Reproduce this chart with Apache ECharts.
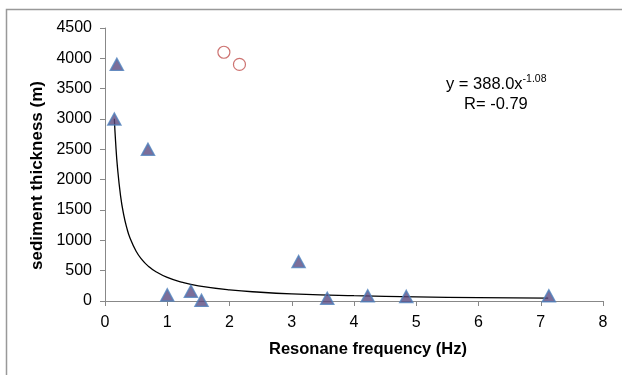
<!DOCTYPE html>
<html>
<head>
<meta charset="utf-8">
<script src="https://cdn.jsdelivr.net/npm/echarts@6/dist/echarts.min.js"></script>
<style>html,body{margin:0;padding:0;background:#fff}#c{width:622px;height:375px}</style>
</head>
<body>
<div id="c"></div>
<script>
var triFreq = [0.19, 0.15, 0.69, 1.0, 1.38, 1.55, 3.11, 3.57, 4.22, 4.84, 7.13];
var triThick = [3900, 3000, 2500, 100, 160, 10, 650, 45, 85, 75, 85];
var circFreq = [1.91, 2.16];
var circThick = [4100, 3900];
var fitFreq = [0.15, 0.17, 0.2, 0.25, 0.3, 0.35, 0.4, 0.5, 0.6, 0.7, 0.8, 1.0, 1.25, 1.5, 2, 2.5, 3, 4, 5, 6, 7.12];
var fitThick = [3003, 2630, 2207, 1734, 1424, 1206, 1044, 820, 674, 570, 494, 388, 305, 250, 184, 144, 118, 87, 68, 56, 47];
var xTicks = [0, 1, 2, 3, 4, 5, 6, 7, 8];
var yTicks = [0, 500, 1000, 1500, 2000, 2500, 3000, 3500, 4000, 4500];
var equation = ['y = 388.0x', '-1.08', 'R= -0.79'];
var xTitle = 'Resonane frequency (Hz)';
var yTitle = 'sediment thickness (m)';

function pairs(a, b) { return a.map(function (v, i) { return [v, b[i]]; }); }

var chart = echarts.init(document.getElementById('c'), null, {renderer: 'canvas'});
var font = 'Liberation Sans, Arial, Helvetica, sans-serif';
chart.setOption({
  animation: false,
  backgroundColor: '#fff',
  grid: {left: 105, right: 19, top: 28, bottom: 74},
  xAxis: {
    type: 'value', min: xTicks[0], max: xTicks[xTicks.length - 1], interval: 1,
    name: xTitle, nameLocation: 'middle', nameGap: 40,
    nameTextStyle: {fontFamily: font, fontSize: 16.5, fontWeight: 'bold', color: '#000', padding: [0, 0, 0, 28]},
    axisLine: {lineStyle: {color: '#888', width: 1}},
    axisTick: {show: true, length: 5, lineStyle: {color: '#888'}},
    axisLabel: {fontFamily: font, fontSize: 16, color: '#000', margin: 14},
    splitLine: {show: false}
  },
  yAxis: {
    type: 'value', min: yTicks[0], max: yTicks[yTicks.length - 1], interval: 500,
    name: yTitle, nameLocation: 'middle', nameGap: 50, nameRotate: 90,
    nameTextStyle: {fontFamily: font, fontSize: 17, fontWeight: 'bold', color: '#000', padding: [0, 22, 0, 0]},
    axisLine: {show: true, lineStyle: {color: '#888', width: 1}},
    axisTick: {show: true, length: 5, lineStyle: {color: '#888'}},
    axisLabel: {fontFamily: font, fontSize: 16, color: '#000', margin: 13, formatter: function (v) { return String(v); }},
    splitLine: {show: false}
  },
  graphic: [
    {type: 'rect', shape: {x: 6.5, y: 9.5, width: 700, height: 500}, style: {fill: null, stroke: '#999', lineWidth: 1.5}, z: 100},
    {type: 'text', left: 446, top: 74, z: 100,
     style: {text: '{a|' + equation[0] + '}{b|' + equation[1] + '}', rich: {
       a: {fontFamily: font, fontSize: 16.5, fill: '#000'},
       b: {fontFamily: font, fontSize: 10.5, fill: '#000', verticalAlign: 'top', padding: [0, 0, 9, 0]}
     }}},
    {type: 'text', left: 464, top: 96, z: 100,
     style: {text: equation[2], font: '16.5px ' + font, fill: '#000'}}
  ],
  series: [
    {type: 'line', data: pairs(fitFreq, fitThick), smooth: true, showSymbol: false, symbol: 'none',
     lineStyle: {color: '#000', width: 1.3}, z: 1},
    {type: 'scatter', data: pairs(triFreq, triThick), symbol: 'triangle', symbolSize: [13, 12],
     itemStyle: {color: '#5b4a80', borderColor: '#4f81bd', borderWidth: 1.5}, z: 3},
    {type: 'scatter', data: pairs(circFreq, circThick), symbol: 'circle', symbolSize: 12,
     itemStyle: {color: 'rgba(0,0,0,0)', borderColor: '#c0504d', borderWidth: 1.2}, z: 3}
  ]
});
</script>
</body>
</html>
